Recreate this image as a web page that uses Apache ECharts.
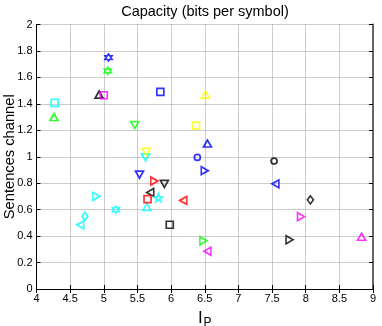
<!DOCTYPE html>
<html>
<head>
<meta charset="utf-8">
<script src="https://cdn.jsdelivr.net/npm/echarts@6/dist/echarts.min.js"></script>
<style>
    html, body { margin: 0; padding: 0; background: #fff; }
    #main { width: 382px; height: 326px; }
</style>
</head>
<body>
<div id="main"></div>
<script>
    // tick labels
    var xTicks = ['4', '4.5', '5', '5.5', '6', '6.5', '7', '7.5', '8', '8.5', '9'];
    var yTicks = ['0', '0.2', '0.4', '0.6', '0.8', '1', '1.2', '1.4', '1.6', '1.8', '2'];

    // points per colour: [Ip, sentences channel]
    var bluePts = [[5.07, 1.75], [5.84, 1.49], [6.54, 1.10], [6.39, 0.995], [6.50, 0.895], [5.53, 0.865], [7.55, 0.795]];
    var blueMarks = ['h', 's', '^', 'o', '>', 'v', '<'];
    var greenPts = [[5.06, 1.65], [4.26, 1.30], [5.46, 1.24], [6.48, 0.365]];
    var greenMarks = ['h', '^', 'v', '>'];
    var blackPts = [[4.93, 1.47], [5.90, 0.795], [5.69, 0.73], [5.98, 0.486], [7.53, 0.967], [8.07, 0.674], [7.76, 0.372]];
    var blackMarks = ['^', 'v', '<', 's', 'o', 'd', '>'];
    var magentaPts = [[5.00, 1.465], [6.54, 0.285], [7.93, 0.546], [8.83, 0.395]];
    var magentaMarks = ['s', '<', '>', '^'];
    var cyanPts = [[4.27, 1.407], [5.62, 0.995], [4.89, 0.70], [5.64, 0.62], [5.81, 0.69], [5.18, 0.60], [4.72, 0.55], [4.65, 0.486]];
    var cyanMarks = ['s', 'v', '>', '^', 'p', 'h', 'd', '<'];
    var yellowPts = [[6.51, 1.47], [6.37, 1.236], [5.63, 1.037]];
    var yellowMarks = ['^', 's', 'v'];
    var redPts = [[5.75, 0.816], [5.65, 0.68], [6.18, 0.67]];
    var redMarks = ['>', 's', '<'];

    var hexagram = 'path://M0,-10L2.9,-5L8.66,-5L5.8,0L8.66,5L2.9,5L0,10L-2.9,5L-8.66,5L-5.8,0L-8.66,-5L-2.9,-5Z';
    var pentagram = 'path://M0,-10L2.35,-3.24L9.51,-3.09L3.8,1.24L5.88,8.09L0,4L-5.88,8.09L-3.8,1.24L-9.51,-3.09L-2.35,-3.24Z';

    // matlab style marker code -> echarts symbol
    function markSymbol(m) {
        switch (m) {
            case 'o': return { symbol: 'circle', symbolSize: 6, symbolRotate: 0 };
            case 's': return { symbol: 'rect', symbolSize: 7, symbolRotate: 0 };
            case 'd': return { symbol: 'diamond', symbolSize: [6, 8], symbolRotate: 0 };
            case '^': return { symbol: 'triangle', symbolSize: [8, 7], symbolRotate: 0 };
            case 'v': return { symbol: 'triangle', symbolSize: [8, 7], symbolRotate: 180 };
            case '<': return { symbol: 'triangle', symbolSize: [8, 7], symbolRotate: 90 };
            case '>': return { symbol: 'triangle', symbolSize: [8, 7], symbolRotate: -90 };
            case 'p': return { symbol: pentagram, symbolSize: 8, symbolRotate: 0 };
            case 'h': return { symbol: hexagram, symbolSize: 7, symbolRotate: 0 };
        }
    }

    function makeSeries(name, color, pts, marks) {
        var data = [];
        for (var i = 0; i < pts.length; i++) {
            var s = markSymbol(marks[i]);
            data.push({
                value: pts[i],
                symbol: s.symbol,
                symbolSize: s.symbolSize,
                symbolRotate: s.symbolRotate
            });
        }
        return {
            name: name,
            type: 'scatter',
            data: data,
            itemStyle: { color: 'rgba(0,0,0,0)', borderColor: color, borderWidth: 1.7 },
            emphasis: { disabled: true },
            z: 5
        };
    }

    var fontName = 'Liberation Sans';
    var gridLine = { show: true, lineStyle: { color: '#9a9a9a', type: [1, 1], width: 1 } };

    var chart = echarts.init(document.getElementById('main'), null, { renderer: 'canvas' });
    var option = {
        animation: false,
        backgroundColor: '#fff',
        grid: { left: 36.5, right: 9, top: 24.5, bottom: 37, containLabel: false, outerBoundsMode: 'none' },
        graphic: [{
            type: 'text',
            x: 205, y: 12,
            style: { text: 'Capacity (bits per symbol)', textAlign: 'center', textVerticalAlign: 'middle', font: '14.5px ' + fontName, fill: '#000' }
        }],
        xAxis: [{
            type: 'value',
            min: +xTicks[0], max: +xTicks[xTicks.length - 1], interval: +xTicks[1] - +xTicks[0],
            axisLine: { lineStyle: { color: '#000', width: 1 } },
            axisTick: { inside: true, length: 4, lineStyle: { color: '#000' } },
            axisLabel: { color: '#000', fontSize: 11, fontFamily: fontName, margin: 4 },
            splitLine: gridLine,
            name: '{i|I}{p|P}',
            nameLocation: 'middle',
            nameMoveOverlap: false,
            nameGap: 18,
            nameTextStyle: {
                rich: {
                    i: { fontSize: 17, fontFamily: fontName, color: '#000' },
                    p: { fontSize: 12, fontFamily: fontName, color: '#000', verticalAlign: 'bottom', padding: [10, 0, 0, 1] }
                }
            }
        }, {
            type: 'value', position: 'top',
            min: +xTicks[0], max: +xTicks[xTicks.length - 1], interval: +xTicks[1] - +xTicks[0],
            axisLine: { lineStyle: { color: '#000', width: 1 } },
            axisTick: { inside: true, length: 4, lineStyle: { color: '#000' } },
            axisLabel: { show: false },
            splitLine: { show: false }
        }],
        yAxis: [{
            type: 'value',
            min: +yTicks[0], max: +yTicks[yTicks.length - 1], interval: +yTicks[1] - +yTicks[0],
            axisLine: { show: true, lineStyle: { color: '#000', width: 1 } },
            axisTick: { show: true, inside: true, length: 4, lineStyle: { color: '#000' } },
            axisLabel: { color: '#000', fontSize: 11, fontFamily: fontName, margin: 4 },
            splitLine: gridLine,
            name: 'Sentences channel',
            nameLocation: 'middle',
            nameMoveOverlap: false,
            nameGap: 19,
            nameTextStyle: { fontSize: 14.7, fontFamily: fontName, color: '#000' }
        }, {
            type: 'value', position: 'right',
            min: +yTicks[0], max: +yTicks[yTicks.length - 1], interval: +yTicks[1] - +yTicks[0],
            axisLine: { show: true, lineStyle: { color: '#666', width: 2 } },
            axisTick: { show: true, inside: true, length: 4, lineStyle: { color: '#000' } },
            axisLabel: { show: false },
            splitLine: { show: false }
        }],
        series: [
            makeSeries('blue', '#0000ff', bluePts, blueMarks),
            makeSeries('green', '#00ff00', greenPts, greenMarks),
            makeSeries('black', '#000000', blackPts, blackMarks),
            makeSeries('magenta', '#ff00ff', magentaPts, magentaMarks),
            makeSeries('cyan', '#00ffff', cyanPts, cyanMarks),
            makeSeries('yellow', '#ffff00', yellowPts, yellowMarks),
            makeSeries('red', '#ff0000', redPts, redMarks)
        ]
    };
    chart.setOption(option);
</script>
</body>
</html>
